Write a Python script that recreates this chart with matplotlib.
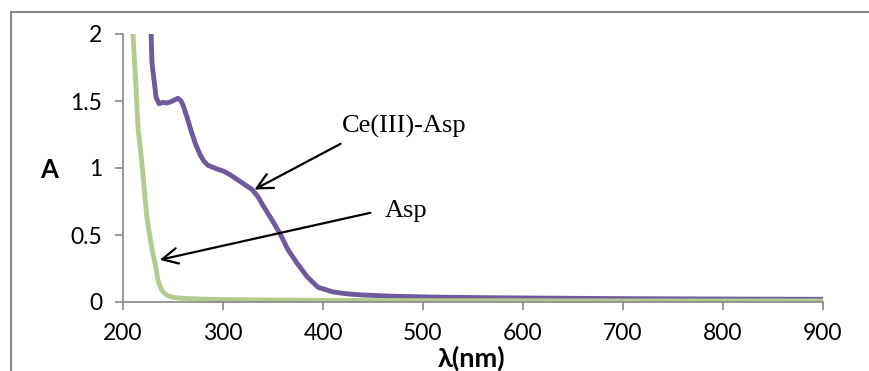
import numpy as np
import matplotlib
matplotlib.use("Agg")
import matplotlib.pyplot as plt
from matplotlib.lines import Line2D

# spectra
wl_complex = [224, 228, 229, 231, 233, 236, 240, 244, 248, 252, 255, 258, 260, 264, 268, 272,
              277, 281, 285, 290, 295, 301, 307, 312, 317, 323, 329, 335, 340, 345, 350,
              357, 365, 374, 384, 395, 410, 425, 440, 470, 507, 550, 600, 700, 800, 900]
abs_complex = [2.4, 2.03, 1.78, 1.66, 1.53, 1.48, 1.49, 1.485, 1.495, 1.51, 1.52, 1.50, 1.47, 1.38, 1.28, 1.19,
               1.10, 1.05, 1.02, 1.005, 0.99, 0.975, 0.95, 0.925, 0.90, 0.87, 0.84, 0.785, 0.72, 0.66, 0.60,
               0.51, 0.39, 0.29, 0.19, 0.11, 0.075, 0.06, 0.052, 0.043, 0.037, 0.033, 0.03, 0.025, 0.022, 0.02]

wl_asp = [205, 210, 213, 215, 218, 220, 222, 224, 226, 228, 230, 232, 235, 238, 240, 244, 250, 258,
          277, 300, 350, 400, 500, 600, 700, 800, 900]
abs_asp = [2.7, 2.0, 1.6, 1.3, 1.1, 0.95, 0.78, 0.63, 0.53, 0.44, 0.36, 0.29, 0.16, 0.10, 0.075, 0.05, 0.035, 0.028,
           0.022, 0.018, 0.015, 0.012, 0.01, 0.009, 0.008, 0.008, 0.008]

x_ticks = [200, 300, 400, 500, 600, 700, 800, 900]
y_ticks = [0, 0.5, 1, 1.5, 2]
y_tick_labels = ["0", "0.5", "1", "1.5", "2"]

W, H = 869, 371
fig = plt.figure(figsize=(W / 100, H / 100), dpi=100)
ax = fig.add_axes([123 / W, (H - 302) / H, 700 / W, 268 / H])

ax.plot(wl_complex, abs_complex, color="#6E5A9C", lw=3.5, solid_capstyle="round",
        solid_joinstyle="round")
ax.plot(wl_asp, abs_asp, color="#B3CB8E", lw=3.5, solid_capstyle="round",
        solid_joinstyle="round")

ax.set_xlim(200, 900)
ax.set_ylim(0, 2)
ax.set_xticks(x_ticks)
ax.set_yticks(y_ticks)
ax.set_yticklabels(y_tick_labels)

for lab in ax.get_xticklabels() + ax.get_yticklabels():
    lab.set_fontfamily("Lato")
    lab.set_fontsize(16.5)
ax.tick_params(axis="both", direction="out", length=6, width=1.2, color="#888888", pad=9)

for s in ["top", "right"]:
    ax.spines[s].set_visible(False)
for s in ["left", "bottom"]:
    ax.spines[s].set_color("#888888")
    ax.spines[s].set_linewidth(1.2)
ax.patch.set_alpha(0)

fig.text(49 / W, 1 - 170 / H, "A", fontfamily=["Lato", "DejaVu Sans"], fontsize=18.5,
         fontweight="bold", ha="center", va="center")
fig.text(472 / W, 1 - 358 / H, "λ(nm)", fontfamily=["Lato", "DejaVu Sans"], fontsize=19.5,
         fontweight="bold", ha="center", va="center")

# arrows with labels
ax.annotate("", xy=(329, 0.83), xytext=(420, 1.19),
            arrowprops=dict(arrowstyle="->", color="black", lw=1.6, mutation_scale=28))
ax.annotate("", xy=(234, 0.31), xytext=(450, 0.67),
            arrowprops=dict(arrowstyle="->", color="black", lw=1.6, mutation_scale=28))
ax.text(419, 1.31, "Ce(III)-Asp", fontfamily="Liberation Serif", fontsize=19,
        ha="left", va="center")
ax.text(462, 0.68, "Asp", fontfamily="Liberation Serif", fontsize=19,
        ha="left", va="center")

# outer chart frame (only top and left visible)
fig.add_artist(Line2D([11 / W, 1.0], [1 - 12 / H, 1 - 12 / H], color="#888888", lw=1.5))
fig.add_artist(Line2D([11 / W, 11 / W], [0, 1 - 12 / H], color="#888888", lw=1.5))

fig.savefig("out.png", dpi=100)
